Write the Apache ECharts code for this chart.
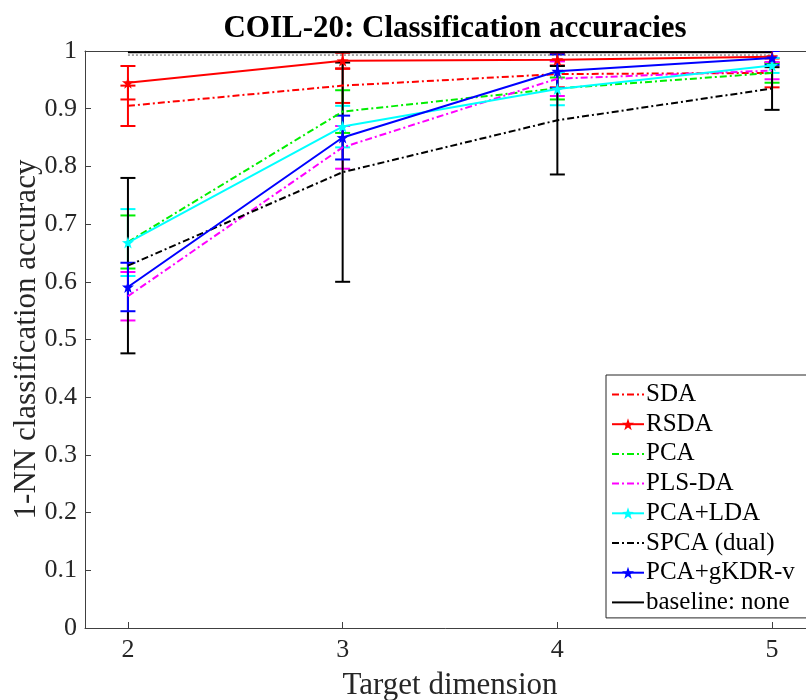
<!DOCTYPE html>
<html>
<head>
<meta charset="utf-8">
<script src="https://cdn.jsdelivr.net/npm/echarts@6/dist/echarts.min.js"></script>
<style>
  html, body { margin: 0; padding: 0; background: #fff; }
  #main { width: 806px; height: 700px; }
</style>
</head>
<body>
<div id="main"></div>
<script>
// target dimensions on the x axis
var dims = [2, 3, 4, 5];
var xTicks = [2, 3, 4, 5];

// mean accuracies and standard deviations
var sda = [0.905, 0.940, 0.960, 0.962];
var sdaErr = [0.035, 0.030, 0.023, 0.025];
var rsda = [0.945, 0.983, 0.985, 0.990];
var rsdaErr = [0.029, 0.014, 0.010, 0.010];
var pca = [0.669, 0.895, 0.935, 0.962];
var pcaErr = [0.046, 0.037, 0.019, 0.017];
var plsda = [0.575, 0.833, 0.952, 0.966];
var plsdaErr = [0.042, 0.037, 0.030, 0.015];
var pcaLda = [0.668, 0.869, 0.934, 0.975];
var pcaLdaErr = [0.058, 0.036, 0.028, 0.013];
var spca = [0.628, 0.790, 0.880, 0.935];
var spcaErr = [0.152, 0.190, 0.094, 0.037];
var gkdr = [0.591, 0.850, 0.965, 0.988];
var gkdrErr = [0.042, 0.038, 0.029, 0.012];
var baseline = 0.998;
var baselineErr = 0.005;

var FONT = '"Liberation Serif", "Times New Roman", serif';
var STAR = 'path://M0,-10 L2.35,-3.24 L9.51,-3.09 L3.8,1.24 L5.88,8.09 L0,4 L-5.88,8.09 L-3.8,1.24 L-9.51,-3.09 L-2.35,-3.24 Z';
var DASHDOT = [7, 3, 2, 3];

var methods = [
    {name: 'SDA', mean: sda, err: sdaErr, color: '#ff0000', dash: DASHDOT, star: false},
    {name: 'RSDA', mean: rsda, err: rsdaErr, color: '#ff0000', dash: 'solid', star: true},
    {name: 'PCA', mean: pca, err: pcaErr, color: '#00ee00', dash: DASHDOT, star: false},
    {name: 'PLS-DA', mean: plsda, err: plsdaErr, color: '#ff00ff', dash: DASHDOT, star: false},
    {name: 'PCA+LDA', mean: pcaLda, err: pcaLdaErr, color: '#00ffff', dash: 'solid', star: true},
    {name: 'SPCA (dual)', mean: spca, err: spcaErr, color: '#000000', dash: DASHDOT, star: false},
    {name: 'PCA+gKDR-v', mean: gkdr, err: gkdrErr, color: '#0000ff', dash: 'solid', star: true}
];

function errorBars(m) {
    var data = dims.map(function (d, i) {
        return [d, m.mean[i] - m.err[i], m.mean[i] + m.err[i]];
    });
    return {
        type: 'custom',
        name: m.name + ' err',
        clip: true,
        silent: true,
        data: data,
        encode: {x: 0, y: [1, 2]},
        renderItem: function (params, api) {
            var lo = api.coord([api.value(0), api.value(1)]);
            var hi = api.coord([api.value(0), api.value(2)]);
            var w = 7.5;
            var style = {stroke: m.color, lineWidth: 2, fill: null};
            return {
                type: 'group',
                children: [
                    {type: 'line', shape: {x1: lo[0], y1: lo[1], x2: hi[0], y2: hi[1]}, style: style},
                    {type: 'line', shape: {x1: lo[0] - w, y1: lo[1], x2: lo[0] + w, y2: lo[1]}, style: style},
                    {type: 'line', shape: {x1: hi[0] - w, y1: hi[1], x2: hi[0] + w, y2: hi[1]}, style: style}
                ]
            };
        }
    };
}

var series = [];
var legendData = [];
methods.forEach(function (m) {
    series.push({
        type: 'line',
        name: m.name,
        data: dims.map(function (d, i) { return [d, m.mean[i]]; }),
        symbol: m.star ? STAR : 'none',
        symbolSize: 12,
        showSymbol: m.star,
        itemStyle: {color: m.color},
        lineStyle: {color: m.color, width: 2, type: m.dash},
        z: 3
    });
    series.push(errorBars(m));
    legendData.push(m.star ? {name: m.name} : {name: m.name, itemStyle: {opacity: 0}});
});

series.push({
    type: 'line',
    name: 'baseline: none',
    data: [[dims[0], baseline], [dims[dims.length - 1], baseline]],
    symbol: 'none',
    itemStyle: {color: '#000'},
    lineStyle: {color: '#000', width: 2, type: 'solid'},
    z: 2
});
series.push({
    type: 'line',
    name: 'baseline std',
    data: [[dims[0], baseline - baselineErr], [dims[dims.length - 1], baseline - baselineErr]],
    symbol: 'none',
    silent: true,
    lineStyle: {color: '#555', width: 1, type: [2, 2]},
    z: 2
});
legendData.push({name: 'baseline: none', itemStyle: {opacity: 0}});

var myChart = echarts.init(document.getElementById('main'));
var option = {
    animation: false,
    backgroundColor: '#fff',
    title: {
        text: 'COIL-20: Classification accuracies',
        left: 450,
        textAlign: 'center',
        top: 8,
        textStyle: {fontFamily: FONT, fontSize: 31, fontWeight: 'bold', color: '#000'}
    },
    grid: {left: 85, top: 51, right: -9, bottom: 72, outerBoundsMode: 'none', containLabel: false},
    legend: {
        data: legendData,
        orient: 'vertical',
        left: 606,
        top: 375,
        width: 199,
        itemWidth: 32,
        itemHeight: 15,
        itemGap: 4.7,
        padding: [7, 40, 3, 5],
        backgroundColor: '#fff',
        borderColor: '#262626',
        borderWidth: 1,
        textStyle: {fontFamily: FONT, fontSize: 25, lineHeight: 25, color: '#000', padding: [0, 0, 0, -3]}
    },
    xAxis: [{
        type: 'value',
        min: 1.8,
        max: 5.2,
        name: 'Target dimension',
        nameLocation: 'middle',
        nameGap: 42,
        nameMoveOverlap: false,
        nameTextStyle: {fontFamily: FONT, fontSize: 31, color: '#262626'},
        axisLine: {show: true, lineStyle: {color: '#404040', width: 1}},
        axisTick: {show: true, inside: true, length: 6, customValues: xTicks, lineStyle: {color: '#404040'}},
        axisLabel: {customValues: xTicks, fontFamily: FONT, fontSize: 26, color: '#262626', margin: 9},
        splitLine: {show: false}
    }, {
        type: 'value',
        position: 'top',
        min: 1.8,
        max: 5.2,
        axisLine: {show: true, lineStyle: {color: '#404040', width: 1}},
        axisTick: {show: false},
        axisLabel: {show: false},
        splitLine: {show: false}
    }],
    yAxis: {
        type: 'value',
        min: 0,
        max: 1,
        interval: 0.1,
        name: '1-NN classification accuracy',
        nameLocation: 'middle',
        nameGap: 43,
        nameMoveOverlap: false,
        nameTextStyle: {fontFamily: FONT, fontSize: 31, color: '#262626'},
        axisLine: {show: true, lineStyle: {color: '#404040', width: 1}},
        axisTick: {show: true, inside: true, length: 6, lineStyle: {color: '#404040'}},
        axisLabel: {
            fontFamily: FONT, fontSize: 26, color: '#262626', margin: 8,
            formatter: function (v) {
                if (v === 0 || v === 1) return String(v);
                return v.toFixed(1);
            }
        },
        splitLine: {show: false}
    },
    series: series
};
myChart.setOption(option);
</script>
</body>
</html>
